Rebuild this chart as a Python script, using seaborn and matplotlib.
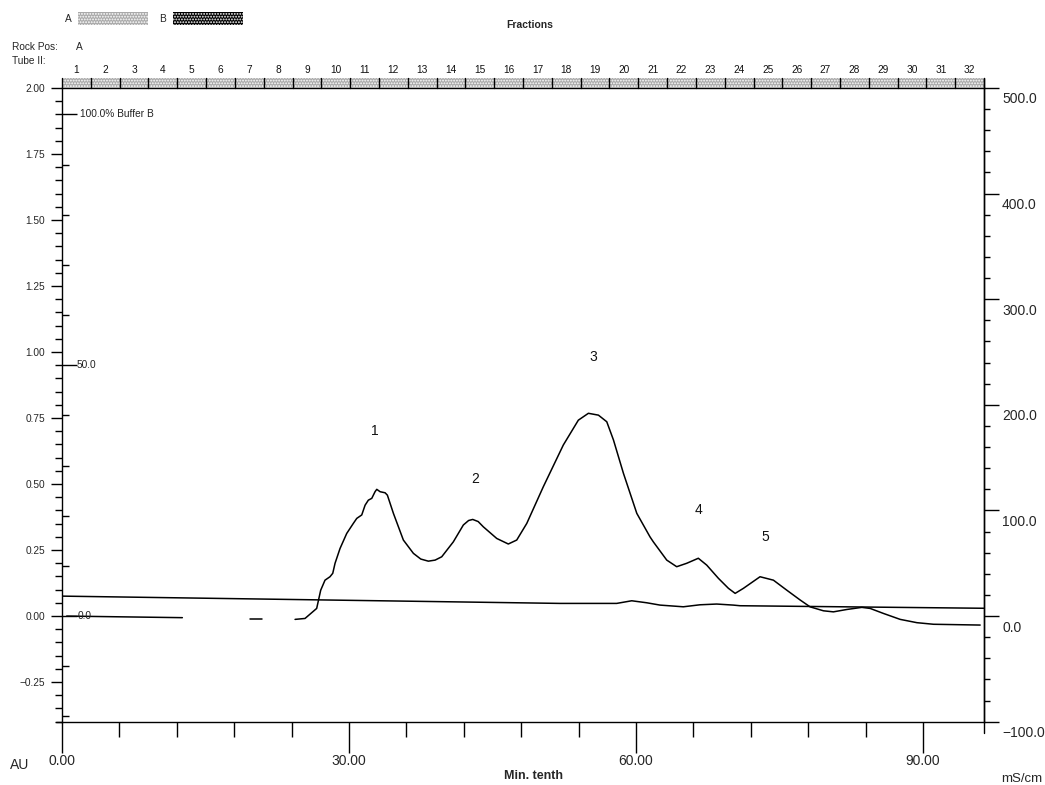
import numpy as np
import pandas as pd
import matplotlib
matplotlib.use("Agg")
import matplotlib.pyplot as plt
import matplotlib.transforms as mtransforms
from matplotlib.patches import Rectangle
from matplotlib.ticker import FixedLocator, FuncFormatter, MultipleLocator
import seaborn as sns

# ---------------- data ----------------
uv_x = [0.49, 6.5, 12.58,
        19.67, 20.92,
        24.36, 25.40, 26.62, 27.04, 27.49, 28.01, 28.30, 28.54, 29.06, 29.76,
        30.45, 30.81, 31.33, 31.68, 32.02, 32.38, 32.72, 32.90, 33.25, 33.77,
        34.01, 34.64, 35.68, 36.73, 37.5, 38.29, 39.0, 39.69, 40.90, 41.95, 42.5, 42.93, 43.5, 44.04,
        45.44, 46.65, 47.53, 48.58, 50.31, 52.40, 53.97, 55.02, 56.07, 56.94,
        57.64, 58.68, 60.08, 61.46, 61.81, 63.21, 64.25, 65.30, 66.51, 67.39,
        68.61, 69.66, 70.36, 71.22, 72.96, 74.36, 75.76, 77.15, 78.19, 79.59,
        80.63, 82.03, 83.60, 84.47, 85.86, 87.61, 89.36, 91.09, 95.97]
uv_au = [0.000, -0.003, -0.006,
         -0.010, -0.010,
         -0.0125, -0.009, 0.029, 0.098, 0.136, 0.149, 0.162, 0.200, 0.256, 0.313,
         0.351, 0.370, 0.383, 0.420, 0.439, 0.446, 0.471, 0.480, 0.471, 0.467,
         0.458, 0.389, 0.288, 0.2375, 0.216, 0.208, 0.212, 0.2246, 0.281, 0.345, 0.362, 0.366, 0.358, 0.338,
         0.294, 0.273, 0.288, 0.351, 0.490, 0.648, 0.742, 0.768, 0.761, 0.736,
         0.667, 0.541, 0.389, 0.300, 0.281, 0.212, 0.187, 0.200, 0.219, 0.193,
         0.143, 0.105, 0.086, 0.105, 0.149, 0.136, 0.098, 0.061, 0.035, 0.020,
         0.016, 0.025, 0.033, 0.029, 0.010, -0.0125, -0.025, -0.031, -0.034]
uv_segment = [1] * 3 + [2] * 2 + [3] * (len(uv_x) - 5)

cond_x = [0.0, 52.05, 57.98, 59.55, 61.12, 62.51, 64.94, 66.69, 68.43, 70.17, 70.87, 96.37]
cond_ms = [18.9, 12.0, 12.0, 14.5, 12.6, 10.4, 8.8, 10.7, 11.4, 10.4, 9.8, 7.4]

peak_labels = ["1", "2", "3", "4", "5"]
peak_x = [32.7, 43.2, 55.5, 66.5, 73.5]
peak_y = [0.70, 0.52, 0.98, 0.40, 0.30]

fraction_labels = [str(i) for i in range(1, 33)]
x_max = 96.37
fraction_edges = np.linspace(0.0, x_max, 33)

au_ticks = [-0.25, 0.0, 0.25, 0.5, 0.75, 1.0, 1.25, 1.5, 1.75, 2.0]
ms_ticks = [-100, 0, 100, 200, 300, 400, 500]
x_ticks = [0, 30, 60, 90]
x_minor_ticks = [6, 12, 18, 24, 36, 42, 48, 54, 66, 72, 78, 84]
pctb_major = [0, 50, 100]
pctb_labels = ["0.0", "50.0", "100.0% Buffer B"]
pctb_to_au = 0.019

# ---------------- style ----------------
sns.set_theme(style="white")
plt.rcParams["font.family"] = ["Liberation Sans", "DejaVu Sans"]
plt.rcParams["hatch.linewidth"] = 0.9

W, H = 1045, 785
fig = plt.figure(figsize=(W / 100, H / 100), dpi=100)
L, R, T, B = 62, 984, 88, 721.7
ax = fig.add_axes([L / W, 1 - B / H, (R - L) / W, (B - T) / H])
ax.set_facecolor("white")

uv_df = pd.DataFrame({"x": uv_x, "y": uv_au, "seg": uv_segment})
sns.lineplot(data=uv_df, x="x", y="y", units="seg", estimator=None,
             color="black", lw=1.1, ax=ax, sort=False)

ax.set_xlim(0, x_max)
ax.set_ylim(-0.40, 2.00)
ax.set_xlabel("")
ax.set_ylabel("")

minus = lambda s: s.replace("-", "\u2212")
ax.yaxis.set_major_locator(FixedLocator(au_ticks))
ax.yaxis.set_minor_locator(MultipleLocator(0.05))
ax.yaxis.set_major_formatter(FuncFormatter(lambda v, p: minus(f"{v:.2f}")))
ax.xaxis.set_major_locator(FixedLocator(x_ticks))
ax.xaxis.set_minor_locator(FixedLocator(x_minor_ticks))
ax.xaxis.set_major_formatter(FuncFormatter(lambda v, p: f"{v:.2f}"))

ax.tick_params(axis="y", which="major", direction="out", length=8, width=1,
               color="black", labelsize=7.3, pad=4, left=True)
ax.tick_params(axis="y", which="minor", direction="out", length=5, width=1,
               color="black", left=True)
ax.tick_params(axis="x", which="major", direction="out", length=22, width=1,
               color="black", labelsize=10, pad=1, bottom=True)
ax.tick_params(axis="x", which="minor", direction="out", length=11, width=1,
               color="black", bottom=True)
for sp in ax.spines.values():
    sp.set_color("black")
    sp.set_linewidth(1.0)
    sp.set_visible(True)

# %B scale ticks inside left axis
ax3 = ax.twinx()
ax3.yaxis.tick_left()
ax3.set_ylim(-0.40 / pctb_to_au, 2.00 / pctb_to_au)
ax3.yaxis.set_major_locator(FixedLocator(pctb_major))
ax3.yaxis.set_minor_locator(MultipleLocator(10))
ax3.tick_params(axis="y", which="major", direction="in", length=11, width=1,
                color="black", labelleft=False, labelright=False, right=False)
ax3.tick_params(axis="y", which="minor", direction="in", length=5, width=1,
                color="black", right=False)
for sp in ax3.spines.values():
    sp.set_visible(False)
ax3.patch.set_visible(False)
ax3.set_xlim(0, x_max)
label_x_px = [78, 77, 80]
for v, lab, px in zip(pctb_major, pctb_labels, label_x_px):
    ax3.text((px - L) / (R - L), v, lab, transform=ax3.get_yaxis_transform(),
             ha="left", va="center", fontsize=7.3, color="#222222")

# conductivity on right axis
ax2 = ax.twinx()
cond_df = pd.DataFrame({"x": cond_x, "y": cond_ms})
sns.lineplot(data=cond_df, x="x", y="y", color="black", lw=1.1, ax=ax2,
             estimator=None, sort=False)
ax2.set_ylim(-100, 500)
ax2.set_xlim(0, x_max)
ax2.set_ylabel("")
ax2.yaxis.set_major_locator(FixedLocator(ms_ticks))
ax2.yaxis.set_minor_locator(MultipleLocator(20))
ax2.yaxis.set_major_formatter(FuncFormatter(lambda v, p: minus(f"{v:.1f}")))
ax2.tick_params(axis="y", which="major", direction="out", length=11, width=1,
                color="black", labelsize=10, pad=2, right=True)
ax2.tick_params(axis="y", which="minor", direction="out", length=4, width=1,
                color="black", right=True)
for sp in ax2.spines.values():
    sp.set_visible(False)
ax2.patch.set_visible(False)
shift = mtransforms.ScaledTranslation(0, -0.10, fig.dpi_scale_trans)
for lab in ax2.get_yticklabels():
    lab.set_transform(lab.get_transform() + shift)

# peak labels
for lab, px_, py_ in zip(peak_labels, peak_x, peak_y):
    ax.text(px_, py_, lab, ha="center", va="center", fontsize=10, color="#111111")

# fraction strip
strip_h = 10 / (B - T)
btr = ax.get_xaxis_transform()
for i in range(32):
    x0, x1 = fraction_edges[i], fraction_edges[i + 1]
    ax.add_patch(Rectangle((x0, 1.0), x1 - x0, strip_h, transform=btr,
                           facecolor="#a9a9a9", edgecolor="white", hatch="......",
                           lw=0, clip_on=False, zorder=3))
    ax.text((x0 + x1) / 2, 1.0 + 18 / (B - T), fraction_labels[i], transform=btr,
            ha="center", va="center", fontsize=7.3, color="#111111", clip_on=False)
for e in fraction_edges:
    ax.plot([e, e], [1.0, 1.0 + strip_h], transform=btr, color="black", lw=1.0,
            clip_on=False, zorder=4)

# spine extensions
fig.add_artist(plt.Line2D([R / W, R / W], [1 - 733 / H, 1 - 78 / H], color="black", lw=1.0))
fig.add_artist(plt.Line2D([56 / W, L / W], [1 - B / H, 1 - B / H], color="black", lw=1.0))

# top legend
def fx(px):
    return px / W

def fy(py):
    return 1 - py / H

fig.patches.append(Rectangle((fx(78), fy(24.5)), 70 / W, 12.5 / H, transform=fig.transFigure,
                             facecolor="#a9a9a9", edgecolor="white", hatch="......", lw=0))
fig.patches.append(Rectangle((fx(173), fy(24.5)), 70 / W, 12.5 / H, transform=fig.transFigure,
                             facecolor="black", edgecolor="white", hatch="......", lw=0))
fig.text(fx(68), fy(18.5), "A", ha="center", va="center", fontsize=7.3)
fig.text(fx(163), fy(18.5), "B", ha="center", va="center", fontsize=7.3)
fig.text(fx(530), fy(25), "Fractions", ha="center", va="center", fontsize=7.5, fontweight="bold")
fig.text(fx(12), fy(47), "Rock Pos:", ha="left", va="center", fontsize=7.3)
fig.text(fx(76), fy(47), "A", ha="left", va="center", fontsize=7.3)
fig.text(fx(12), fy(61), "Tube II:", ha="left", va="center", fontsize=7.3)

# axis titles
fig.text(fx(20), fy(765), "AU", ha="center", va="center", fontsize=10)
fig.text(fx(533), fy(776), "Min. tenth", ha="center", va="center", fontsize=9, fontweight="bold")
fig.text(fx(1022), fy(779), "mS/cm", ha="center", va="center", fontsize=9.5)

fig.savefig("out.png", dpi=100, facecolor="white")
